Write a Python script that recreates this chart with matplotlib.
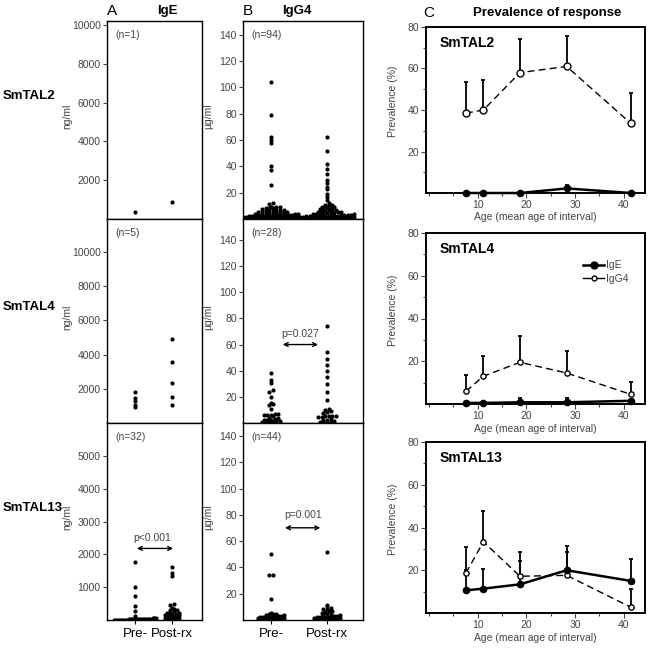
# Dot plots of IgE / IgG4 levels pre and post treatment, plus age prevalence curves

import numpy as np
import matplotlib.pyplot as plt
from matplotlib.lines import Line2D

plt.rcParams['font.family'] = ['Liberation Sans', 'DejaVu Sans']

# ---------------- panel A: IgE (ng/ml) ----------------
ige_tal2_pre = [380]
ige_tal2_post = [900]
ige_tal4_pre = [1800, 1440, 1300, 1050, 950]
ige_tal4_post = [4910, 3550, 2340, 1540, 1050]
ige_tal13_pre = [1770, 1000, 730, 430, 270, 130,
                 5, 10, 15, 20, 25, 30, 35, 40, 8, 12, 18, 22, 28, 33, 38, 45,
                 3, 6, 14, 26, 50, 55, 60, 9, 17, 42]
ige_tal13_post = [1600, 1430, 1350, 500, 450,
                  380, 340, 310,
                  290, 260, 240, 220, 205,
                  190, 175, 160, 150, 140, 125, 110,
                  95, 85, 75, 65, 55, 45, 35, 25, 15, 10, 5, 50]

# ---------------- panel B: IgG4 (ug/ml) ----------------
igg4_tal2_pre = [104, 79, 62, 60, 58, 40, 37, 26, 12, 11.5,
                 9.5, 9, 8.8, 8.5, 8.2, 8, 7.8,
                 7.2, 7, 6.8, 6.5, 6.3, 6, 5.8, 5.6, 5.4, 5.3, 5.2,
                 4.8, 4.6, 4.5, 4.3, 4.1, 4, 3.8, 3.6, 3.5, 3.3, 3.2, 3, 2.9, 2.8, 2.7, 2.6,
                 2.4, 2.3, 2.2, 2.1, 2.0, 1.9, 1.8, 1.7, 1.6, 1.5, 1.4, 1.3, 1.2, 1.1, 1.0,
                 0.9, 0.8, 0.7, 0.6, 0.5, 0.4, 0.3, 0.2, 0.1,
                 2.4, 2.2, 2.0, 1.8, 1.6, 1.4, 1.2, 1.0, 0.8, 0.6, 0.4, 0.2,
                 2.3, 2.1, 1.9, 1.7, 1.5, 1.3, 1.1, 0.9, 0.7, 0.5, 0.3, 0.1, 1.0, 0.5]
igg4_tal2_post = [62, 52, 42, 38, 34.5, 30, 27, 24.5, 22.5, 19, 17, 14.5, 12.5, 11, 10.8, 10.5,
                  9.8, 9.5, 9, 8.5, 8, 7.8,
                  7.3, 7.1, 7, 6.6, 6.2, 5.9, 5.6, 5.4, 5.2,
                  4.9, 4.7, 4.6, 4.4, 4.2, 4, 3.8, 3.6, 3.4, 3.2, 3, 2.8, 2.6,
                  2.4, 2.3, 2.2, 2.1, 2.0, 1.9, 1.8, 1.7, 1.6, 1.5, 1.4, 1.3, 1.2, 1.1, 1.0,
                  0.9, 0.8, 0.7, 0.6, 0.5, 0.4, 0.3, 0.2, 0.1,
                  2.4, 2.2, 2.0, 1.8, 1.6, 1.4, 1.2, 1.0, 0.8, 0.6, 0.4, 0.2,
                  2.3, 2.1, 1.9, 1.7, 1.5, 1.3, 1.1, 0.9, 0.7, 0.5, 0.3, 0.1, 1.0, 0.5]
igg4_tal4_pre = [38, 33, 30.5, 25, 24, 20, 15.5, 14.5, 14, 11,
                 7, 7, 6.5, 6.5, 6, 5.5,
                 4, 3.5, 3, 2.5, 2, 2, 1.5, 1.5, 1, 1, 0.5, 0.5]
igg4_tal4_post = [74, 54, 49, 44.5, 40, 35.5, 29.5, 23.5, 17.5,
                  10.5, 10, 9, 8.5, 8,
                  5.5, 5.5, 5, 5, 4.5, 4.5,
                  3, 2.5, 2, 1.5, 1, 1, 0.5, 0.5]
igg4_tal13_pre = [50, 34.5, 34, 16, 5.5,
                  4.8, 4.5, 4.2, 3.9, 3.6, 3.3, 3, 2.8, 2.6,
                  2.4, 2.3, 2.2, 2.1, 2.0, 1.9, 1.8, 1.7, 1.6, 1.5, 1.4, 1.3, 1.2, 1.1, 1.0,
                  0.9, 0.8, 0.7, 0.6, 0.5, 0.4, 0.3, 0.2, 0.1, 2.2, 1.8, 1.4, 1.0, 0.6, 0.2]
igg4_tal13_post = [51.5, 11.5, 10.5, 9, 8.5, 8, 7, 6.5, 6, 5.5,
                   4.8, 4.4, 4, 3.6, 3.2, 2.8,
                   2.4, 2.3, 2.2, 2.1, 2.0, 1.9, 1.8, 1.7, 1.6, 1.5, 1.4, 1.3, 1.2, 1.1,
                   1.0, 0.9, 0.8, 0.7, 0.6, 0.5, 0.4, 0.3, 0.2, 0.1, 2.2, 1.6, 1.0, 0.4]

n_labels_a = ['(n=1)', '(n=5)', '(n=32)']
n_labels_b = ['(n=94)', '(n=28)', '(n=44)']
antigens = ['SmTAL2', 'SmTAL4', 'SmTAL13']
groups = ['Pre-', 'Post-rx']

# ---------------- panel C: prevalence (%) ----------------
ages = [7.6, 11.2, 18.7, 28.3, 41.5]
prev_igg4 = [[38.5, 40, 58, 61, 33.5],
             [6, 13, 19.5, 14.5, 4.5],
             [18.7, 33.3, 17.2, 17.6, 2.7]]
prev_igg4_upper = [[53.5, 54.5, 74, 75.5, 48],
                   [13.8, 22.3, 32, 24.7, 10.3],
                   [31, 47.5, 28.6, 31.2, 11.3]]
prev_ige = [[0, 0, 0, 2.2, 0],
            [0.5, 0.5, 0.8, 0.8, 1.5],
            [10.6, 11.4, 13.4, 20, 15]]
prev_ige_upper = [[0, 0, 0, 3.8, 0],
                  [0.5, 0.5, 3, 3, 1.5],
                  [20, 20.4, 24.3, 28.6, 25.4]]

W, H = 653, 648
fig = plt.figure(figsize=(W / 100, H / 100), dpi=100)
GREY = '#444444'


def box(x0, y0, x1, y1):
    return [x0 / W, 1 - y1 / H, (x1 - x0) / W, (y1 - y0) / H]


def swarm(ax, vals, cx, half_px, bin_px=2.4, step_px=3.6):
    vals = np.asarray(vals, float)
    pts = ax.transData.transform(np.column_stack([np.full(len(vals), cx), vals]))
    y0 = ax.transData.transform((cx, 0))[1]
    px_x = ax.transData.transform((cx + 1, 0))[0] - ax.transData.transform((cx, 0))[0]
    rows = np.floor((pts[:, 1] - y0) / bin_px).astype(int)
    xs = np.full(len(vals), float(cx))
    for r in np.unique(rows):
        idx = np.where(rows == r)[0]
        idx = idx[np.argsort(vals[idx])]
        k = len(idx)
        if k < 2:
            continue
        step = min(step_px, 2 * half_px / (k - 1))
        xs[idx] = cx + (np.arange(k) - (k - 1) / 2) * step / px_x
    ax.plot(xs, vals, 'o', ms=3.0, color='black', mec='none')


def dot_axes(rect, ylim, yticks, ylab, xlim, labx, ntxt, last):
    ax = fig.add_axes(rect)
    ax.set_xlim(xlim)
    ax.set_ylim(0, ylim)
    ax.set_yticks(yticks)
    ax.set_xticks([1, 2])
    ax.tick_params(axis='y', direction='out', length=3, width=0.8, labelsize=7.5,
                   colors=GREY, pad=1.5)
    ax.tick_params(axis='x', direction='out', length=3, width=0.8, color='black',
                   labelsize=9.5, pad=3)
    if last:
        ax.set_xticklabels(groups)
    else:
        ax.set_xticklabels([])
    for s in ax.spines.values():
        s.set_linewidth(1.0)
    ax.set_ylabel(ylab, fontsize=7.5, color=GREY)
    ax.yaxis.set_label_coords(labx, 0.52)
    ax.annotate(ntxt, (0, 1), xycoords='axes fraction', xytext=(8, -14),
                textcoords='offset pixels', fontsize=7.5, color=GREY, va='center')
    return ax


rows_px = [(21, 219), (219, 423), (423, 620)]
ige_data = [(ige_tal2_pre, ige_tal2_post), (ige_tal4_pre, ige_tal4_post),
            (ige_tal13_pre, ige_tal13_post)]
igg4_data = [(igg4_tal2_pre, igg4_tal2_post), (igg4_tal4_pre, igg4_tal4_post),
             (igg4_tal13_pre, igg4_tal13_post)]
ylim_a = [10206, 11930, 6000]
yticks_a = [[2000, 4000, 6000, 8000, 10000], [2000, 4000, 6000, 8000, 10000],
            [1000, 2000, 3000, 4000, 5000]]
ylim_b = [150.5, 156, 150]
half_a = [(10, 10), (10, 10), (21, 7)]
half_b = [(27, 27), (9, 9), (13, 13)]
row_label_y = [96, 307, 508]

for i, (y0, y1) in enumerate(rows_px):
    last = i == 2
    axa = dot_axes(box(107, y0, 202, y1), ylim_a[i], yticks_a[i], 'ng/ml',
                   (0.243, 2.81), -0.37, n_labels_a[i], last)
    for g in range(2):
        swarm(axa, ige_data[i][g], g + 1, half_a[i][g])
    axb = dot_axes(box(243, y0, 363, y1), ylim_b[i], [20, 40, 60, 80, 100, 120, 140],
                   'µg/ml', (0.5, 2.643), -0.25, n_labels_b[i], last)
    for g in range(2):
        swarm(axb, igg4_data[i][g], g + 1, half_b[i][g])
    fig.text(3 / W, 1 - row_label_y[i] / H, antigens[i], fontsize=9.5, fontweight='bold',
             va='center', ha='left')
    if i == 1:
        axb.annotate('', xy=(1.84, 60), xytext=(1.21, 60),
                     arrowprops=dict(arrowstyle='<->', lw=1, color='black',
                                     shrinkA=0, shrinkB=0, mutation_scale=7))
        axb.text(1.52, 68, 'p=0.027', fontsize=7.5, color=GREY, ha='center', va='center')
    if last:
        axa.annotate('', xy=(2.03, 2180), xytext=(1.05, 2180),
                     arrowprops=dict(arrowstyle='<->', lw=1, color='black',
                                     shrinkA=0, shrinkB=0, mutation_scale=7))
        axa.text(1.46, 2500, 'p<0.001', fontsize=7.5, color=GREY, ha='center', va='center')
        axb.annotate('', xy=(1.88, 70.2), xytext=(1.25, 70.2),
                     arrowprops=dict(arrowstyle='<->', lw=1, color='black',
                                     shrinkA=0, shrinkB=0, mutation_scale=7))
        axb.text(1.57, 79.6, 'p=0.001', fontsize=7.5, color=GREY, ha='center', va='center')

# column headers
fig.text(107 / W, 1 - 11 / H, 'A', fontsize=11, va='center', ha='left')
fig.text(167 / W, 1 - 11 / H, 'IgE', fontsize=9.5, fontweight='bold', va='center', ha='center')
fig.text(243 / W, 1 - 11 / H, 'B', fontsize=11, va='center', ha='left')
fig.text(297 / W, 1 - 11 / H, 'IgG4', fontsize=9.5, fontweight='bold', va='center', ha='center')
fig.text(423 / W, 1 - 13 / H, 'C', fontsize=11, va='center', ha='left')
fig.text(547 / W, 1 - 13 / H, 'Prevalence of response', fontsize=9.5, fontweight='bold',
         va='center', ha='center')

# panel C
rows_c = [(27, 193), (233, 404), (442, 613)]
g4_ms = [5, 3.8, 3.8]
for i, (y0, y1) in enumerate(rows_c):
    ax = fig.add_axes(box(426, y0, 645, y1))
    ax.set_xlim(-0.6, 44.4)
    ax.set_ylim(0, 80)
    ax.set_xticks([10, 20, 30, 40])
    ax.set_xticks([0, 5, 15, 25, 35], minor=True)
    ax.set_yticks([20, 40, 60, 80])
    ax.set_yticks([10, 30, 50, 70], minor=True)
    ax.tick_params(which='major', direction='out', length=3.5, width=0.8,
                   labelsize=7.5, colors=GREY, pad=1.5)
    ax.tick_params(which='minor', direction='out', length=2, width=0.8, colors=GREY)
    for s in ax.spines.values():
        s.set_linewidth(1.4)
    ax.set_ylabel('Prevalence (%)', fontsize=7.5, color=GREY)
    ax.yaxis.set_label_coords(-0.128, 0.55)
    ax.set_xlabel('Age (mean age of interval)', fontsize=7.5, color=GREY)
    ax.xaxis.set_label_coords(0.5, -0.115)
    ax.annotate(antigens[i], (0, 1), xycoords='axes fraction', xytext=(14, -16),
                textcoords='offset pixels', fontsize=10, fontweight='bold', va='center')

    # error bars (upper only)
    ax.vlines(ages, prev_igg4[i], prev_igg4_upper[i], color='black', lw=1.3, zorder=2)
    ax.vlines(ages, prev_ige[i], prev_ige_upper[i], color='black', lw=1.3, zorder=2)
    ax.plot(ages, prev_igg4_upper[i], '_', color='black', ms=3.5, mew=1.3, zorder=2)
    ax.plot(ages, prev_ige_upper[i], '_', color='black', ms=3.5, mew=1.3, zorder=2)

    ax.plot(ages, prev_igg4[i], '--', color='black', lw=1.0, dashes=(5, 3),
            marker='o', ms=g4_ms[i], mfc='white', mec='black', mew=1.0,
            clip_on=False, zorder=3)
    ax.plot(ages, prev_ige[i], '-', color='black', lw=1.8, marker='o', ms=4.5,
            clip_on=False, zorder=4)

    if i == 1:
        handles = [Line2D([], [], color='black', lw=1.8, marker='o', ms=5, label='IgE'),
                   Line2D([], [], color='black', lw=1.0, marker='o', ms=3.5,
                          mfc='white', label='IgG4')]
        ax.legend(handles=handles, loc='upper right', bbox_to_anchor=(0.95, 0.87),
                  frameon=False, fontsize=7.5, handlelength=2.0, handletextpad=0.2,
                  labelspacing=0.35, borderpad=0, labelcolor=GREY)

fig.savefig('out.png', dpi=100)
